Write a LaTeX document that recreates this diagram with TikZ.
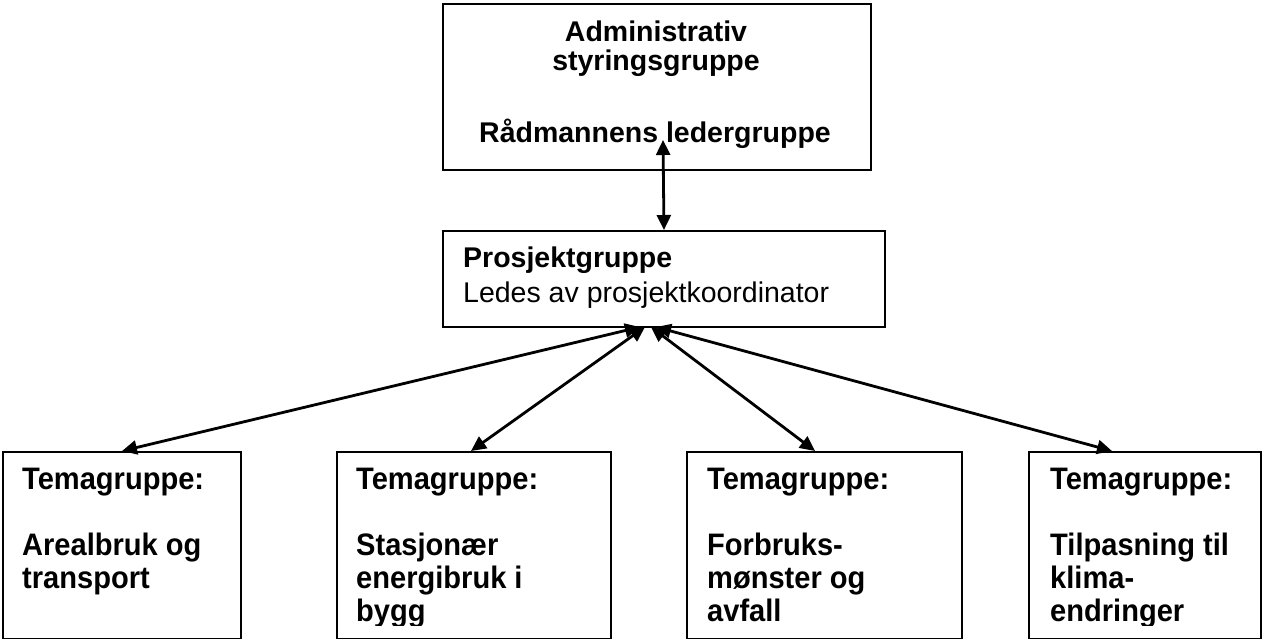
\documentclass[tikz,border=0pt]{standalone}
\usepackage{fontspec}
\usepackage{graphicx}
\setmainfont{Liberation Sans}
\usetikzlibrary{arrows.meta}
\newcommand{\diafont}{\fontsize{28.5}{33}\selectfont}
\newcommand{\tg}[1]{\scalebox{1.02}[1.09]{#1}}
\begin{document}
\begin{tikzpicture}[x=1pt,y=-1pt,
  box/.style={draw, line width=2pt, inner sep=0pt, anchor=north west},
  conn/.style={line width=2.8pt, {Triangle[length=15pt,width=14pt]}-{Triangle[length=15pt,width=14pt]}},
  bl/.style={anchor=base west, inner sep=0pt, font=\diafont\bfseries},
  bc/.style={anchor=base, inner sep=0pt, font=\diafont\bfseries},
  rl/.style={anchor=base west, inner sep=0pt, font=\diafont}]
\useasboundingbox (0,0) rectangle (1262,639);

% boxes
\node[box, minimum width=428pt, minimum height=166pt] (adm) at (442,3) {};
\node[box, minimum width=442pt, minimum height=96pt] (pg) at (442,230) {};
\node[box, minimum width=238pt, minimum height=187pt] (b1) at (2,451) {};
\node[box, minimum width=274pt, minimum height=187pt] (b2) at (336,451) {};
\node[box, minimum width=275pt, minimum height=187pt] (b3) at (686,451) {};
\node[box, minimum width=232pt, minimum height=187pt] (b4) at (1028,451) {};

% top box text
\node[bc] (a1) at (656,42) {Administrativ};
\node[bc] (a2) at (656,71) {styringsgruppe};
\node[bc] (a3) at (655,143) {Rådmannens ledergruppe};

% middle box text
\node[bl] (p1) at (463,268) {Prosjektgruppe};
\node[rl] (p2) at (463,302) {Ledes av prosjektkoordinator};

% bottom boxes text (clipped at the bottom)
\begin{scope}
\clip (0,451) rectangle (1262,625);
\node[bl] (t1a) at (22,489) {\tg{Temagruppe:}};
\node[bl] (t1b) at (22,555) {\tg{Arealbruk og}};
\node[bl] (t1c) at (22,588) {\tg{transport}};
\node[bl] (t2a) at (356,489) {\tg{Temagruppe:}};
\node[bl] (t2b) at (356,555) {\tg{Stasjonær}};
\node[bl] (t2c) at (356,588) {\tg{energibruk i}};
\node[bl] (t2d) at (356,621) {\tg{bygg}};
\node[bl] (t3a) at (707,489) {\tg{Temagruppe:}};
\node[bl] (t3b) at (707,555) {\tg{Forbruks-}};
\node[bl] (t3c) at (707,588) {\tg{mønster og}};
\node[bl] (t3d) at (707,621) {\tg{avfall}};
\node[bl] (t4a) at (1050,489) {\tg{Temagruppe:}};
\node[bl] (t4b) at (1050,555) {\tg{Tilpasning til}};
\node[bl] (t4c) at (1050,588) {\tg{klima-}};
\node[bl] (t4d) at (1050,621) {\tg{endringer}};
\end{scope}

% connector end points
\coordinate (admtip) at (663,140);
\coordinate (c1) at (640,327);
\coordinate (c2) at (645,327);
\coordinate (c3) at (651,327);
\coordinate (c4) at (656,327);
\coordinate (e1) at (122,451);
\coordinate (e2) at (471,451);
\coordinate (e3) at (815,451);
\coordinate (e4) at (1112,451);

% connectors
\draw[conn] (pg.north) -- (admtip);
\draw[conn] (c1) -- (e1);
\draw[conn] (c2) -- (e2);
\draw[conn] (c3) -- (e3);
\draw[conn] (c4) -- (e4);
\end{tikzpicture}
\end{document}
